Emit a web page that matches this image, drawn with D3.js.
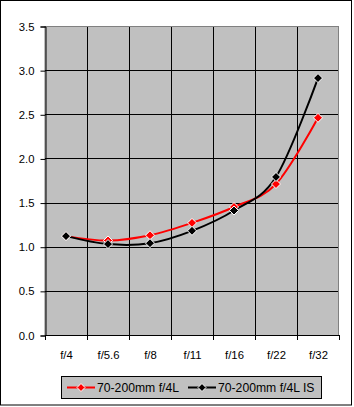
<!DOCTYPE html>
<html>
<head>
<meta charset="utf-8">
<script src="https://cdn.jsdelivr.net/npm/d3@7"></script>
<style>
  body { margin: 0; background: #fff; }
  svg { display: block; font-family: Arial, "Liberation Sans", sans-serif; }
</style>
</head>
<body>
<svg id="chart" width="354" height="407"></svg>
<script>
const stops = ['f/4', 'f/5.6', 'f/8', 'f/11', 'f/16', 'f/22', 'f/32'];
const lensF4L = [1.12, 1.07, 1.13, 1.27, 1.45, 1.71, 2.46];
const lensF4LIS = [1.12, 1.03, 1.04, 1.18, 1.41, 1.79, 2.91];
const seriesNames = ['70-200mm f/4L', '70-200mm f/4L IS'];
const yTicks = [0, 0.5, 1, 1.5, 2, 2.5, 3, 3.5];

const series = [
  { name: seriesNames[0], values: lensF4L, color: '#ff0000' },
  { name: seriesNames[1], values: lensF4LIS, color: '#000000' }
];

const svg = d3.select('#chart');
const plot = { left: 45, top: 26, right: 339, bottom: 335 };

// chart border
svg.append('rect')
  .attr('x', 0.5).attr('y', 0.5)
  .attr('width', 351).attr('height', 404.5)
  .attr('fill', '#fff').attr('stroke', '#000');

const x = d3.scaleBand().domain(stops).range([plot.left, plot.right]);
const y = d3.scaleLinear().domain([0, 3.5]).range([plot.bottom, plot.top]);

svg.append('rect')
  .attr('x', plot.left).attr('y', plot.top + 0.5)
  .attr('width', plot.right - plot.left - 0.5).attr('height', plot.bottom - plot.top)
  .attr('fill', '#c0c0c0').attr('stroke', '#808080');

// gridlines
const grid = svg.append('g').attr('stroke', '#000').attr('stroke-width', 1);
grid.selectAll('.h').data(yTicks.slice(1, -1)).join('line')
  .attr('x1', plot.left).attr('x2', plot.right - 1)
  .attr('y1', d => Math.round(y(d)) + 0.5).attr('y2', d => Math.round(y(d)) + 0.5);
grid.selectAll('.v').data(stops.slice(1)).join('line')
  .attr('x1', d => Math.round(x(d)) + 0.5).attr('x2', d => Math.round(x(d)) + 0.5)
  .attr('y1', plot.top + 1).attr('y2', plot.bottom);

// axes
const yAxis = svg.append('g')
  .attr('transform', `translate(${plot.left + 0.5},0.5)`)
  .call(d3.axisLeft(y).tickValues(yTicks).tickFormat(d3.format('.1f')).tickSize(5).tickPadding(6));
const xAxis = svg.append('g')
  .attr('transform', `translate(0.5,${plot.bottom + 0.5})`)
  .call(d3.axisBottom(x).tickSize(0).tickPadding(15));
// category boundary ticks
svg.append('g').selectAll('line').data(d3.range(stops.length + 1)).join('line')
  .attr('x1', i => Math.round(plot.left + i * x.step()) + 0.5)
  .attr('x2', i => Math.round(plot.left + i * x.step()) + 0.5)
  .attr('y1', plot.bottom).attr('y2', plot.bottom + 5)
  .attr('stroke', '#000');

for (const ax of [yAxis, xAxis]) {
  ax.select('.domain').attr('stroke', '#000');
  ax.selectAll('.tick line').attr('stroke', '#000');
  ax.selectAll('text').attr('fill', '#000').attr('font-size', 11.3)
    .attr('font-family', 'Arial, "Liberation Sans", sans-serif');
}
xAxis.select('.domain').attr('d', `M${plot.left},0H${plot.right}`);

const line = d3.line()
  .x((d, i) => x(stops[i]) + x.bandwidth() / 2)
  .y(d => y(d))
  .curve(d3.curveCatmullRom.alpha(0));

const diamond = s => `M0,${-s}L${s},0L0,${s}L${-s},0Z`;

for (const s of series) {
  svg.append('path')
    .attr('d', line(s.values))
    .attr('fill', 'none')
    .attr('stroke', s.color)
    .attr('stroke-width', 2);
}
for (const s of series) {
  svg.append('g').selectAll('path').data(s.values).join('path')
    .attr('transform', (d, i) => `translate(${x(stops[i]) + x.bandwidth() / 2},${y(d)})`)
    .attr('d', diamond(4.5))
    .attr('fill', s.color)
    .attr('stroke', '#fff')
    .attr('stroke-width', 1);
}

// legend
const legend = svg.append('g');
legend.append('rect')
  .attr('x', 61.5).attr('y', 376.5).attr('width', 260).attr('height', 22)
  .attr('fill', '#c0c0c0').attr('stroke', '#000');
const items = [
  { s: series[0], x0: 67, tx: 97 },
  { s: series[1], x0: 188, tx: 218 }
];
for (const it of items) {
  legend.append('line')
    .attr('x1', it.x0).attr('x2', it.x0 + 28)
    .attr('y1', 387.5).attr('y2', 387.5)
    .attr('stroke', it.s.color).attr('stroke-width', 2);
  legend.append('path')
    .attr('transform', `translate(${it.x0 + 14},387.5)`)
    .attr('d', diamond(4))
    .attr('fill', it.s.color).attr('stroke', '#fff');
  legend.append('text')
    .attr('x', it.tx).attr('y', 387.5).attr('dy', '0.35em')
    .attr('font-size', 12.2).attr('fill', '#000')
    .text(it.s.name);
}
</script>
</body>
</html>
